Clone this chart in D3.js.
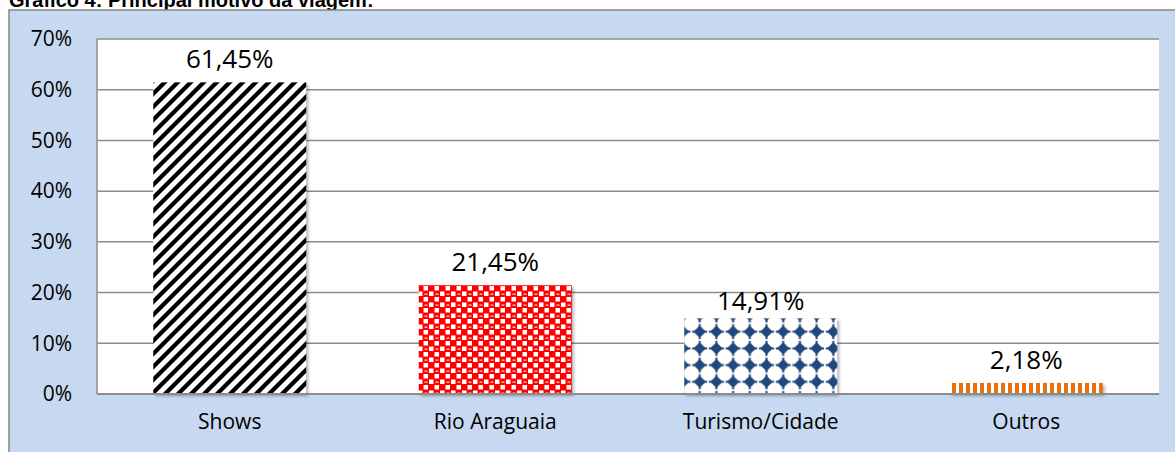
<!DOCTYPE html>
<html><head><meta charset="utf-8">
<script src="https://cdn.jsdelivr.net/npm/d3@7"></script>
<style>body{margin:0;background:#fff;overflow:hidden}svg{display:block}</style>
</head><body>
<script>
const title = "Gráfico 4: Principal motivo da viagem:";
const categories = ["Shows", "Rio Araguaia", "Turismo/Cidade", "Outros"];
const values = [61.45, 21.45, 14.91, 2.18];
const valueLabels = ["61,45%", "21,45%", "14,91%", "2,18%"];
const yTicks = [0, 10, 20, 30, 40, 50, 60, 70];

const W = 1175, H = 452;
const svg = d3.select("body").append("svg").attr("width", W).attr("height", H);
const defs = svg.append("defs");

// patterns
const p1 = defs.append("pattern").attr("id","pShows").attr("patternUnits","userSpaceOnUse")
  .attr("width",13).attr("height",13);
p1.append("rect").attr("width",13).attr("height",13).attr("fill","#fff");
[-13,0,13].forEach(o=>p1.append("line").attr("x1",o-2).attr("y1",15).attr("x2",o+15).attr("y2",-2)
  .attr("stroke","#000").attr("stroke-width",4.2));

const s2 = 11;
const p2 = defs.append("pattern").attr("id","pRio").attr("patternUnits","userSpaceOnUse")
  .attr("width",s2).attr("height",s2);
p2.append("rect").attr("width",s2).attr("height",s2).attr("fill","#ff0000");
p2.append("rect").attr("x",0).attr("y",5.5).attr("width",4.5).attr("height",4.5).attr("fill","#fff");
p2.append("rect").attr("x",5.5).attr("y",0).attr("width",4.5).attr("height",4.5).attr("fill","#fff");
p2.append("rect").attr("x",6.5).attr("y",7.5).attr("width",3).attr("height",1.3).attr("fill","#ffd0d0");

const s3 = 16.7, h = s3/2, r3 = 6.2;
const p3 = defs.append("pattern").attr("id","pTur").attr("patternUnits","userSpaceOnUse")
  .attr("width",s3).attr("height",s3).attr("x",683-h).attr("y",331.7-h);
p3.append("rect").attr("width",s3).attr("height",s3).attr("fill","#fff");
p3.append("path").attr("d",`M${h},${h-r3} L${h+r3},${h} L${h},${h+r3} L${h-r3},${h} Z`).attr("fill","#1f497d");
p3.append("rect").attr("x",h-1).attr("y",h-r3-1.3).attr("width",2).attr("height",2*r3+2.6).attr("fill","#1f497d");
p3.append("rect").attr("x",h-r3-1.3).attr("y",h-1).attr("width",2*r3+2.6).attr("height",2).attr("fill","#1f497d");

const p4 = defs.append("pattern").attr("id","pOut").attr("patternUnits","userSpaceOnUse")
  .attr("width",7).attr("height",10);
p4.append("rect").attr("width",7).attr("height",10).attr("fill","#fff");
p4.append("rect").attr("x",0).attr("width",4).attr("height",10).attr("fill","#e8700e");

const patterns = ["url(#pShows)","url(#pRio)","url(#pTur)","url(#pOut)"];

const f = defs.append("filter").attr("id","blur").attr("x","-10%").attr("y","-10%").attr("width","130%").attr("height","130%");
f.append("feGaussianBlur").attr("stdDeviation",1.5);

// title
svg.append("text").attr("x",9).attr("y",7).attr("font-family","Liberation Sans, Arial, sans-serif")
  .attr("font-weight","bold").attr("font-size",20).attr("fill","#000").text(title);

// chart area
svg.append("rect").attr("x",9).attr("y",10).attr("width",W).attr("height",H)
  .attr("fill","#c6d9f1").attr("stroke","#868686").attr("stroke-width",1.5);

const m = {l:97, r:1159, t:39, b:394};
svg.append("rect").attr("x",m.l).attr("y",m.t).attr("width",m.r-m.l).attr("height",m.b-m.t).attr("fill","#fff");

const x = d3.scaleBand().domain(categories).range([m.l,m.r]).paddingInner(0.424).paddingOuter(0.212);
const y = d3.scaleLinear().domain([0,70]).range([m.b,m.t]);

const font = "Open Sans, sans-serif";
// gridlines
svg.append("g").selectAll("line").data(yTicks.filter(d=>d>0)).join("line")
  .attr("x1",m.l).attr("x2",m.r).attr("y1",d=>y(d)).attr("y2",d=>y(d))
  .attr("stroke","#8c8c8c").attr("stroke-width",1.5);
// left axis line
svg.append("line").attr("x1",m.l).attr("x2",m.l).attr("y1",m.t).attr("y2",m.b).attr("stroke","#8c8c8c").attr("stroke-width",1.5);

// y axis labels
const yAxis = d3.axisLeft(y).tickValues(yTicks).tickFormat(d=>d+"%").tickSize(0).tickPadding(25);
const ga = svg.append("g").attr("transform",`translate(${m.l},0)`).call(yAxis);
ga.select(".domain").remove();
ga.selectAll("text").attr("font-family",font).attr("font-size",21).attr("fill","#000");

// bar shadows
svg.append("g").selectAll("rect").data(values).join("rect")
  .attr("x",(d,i)=>x(categories[i])+2).attr("width",x.bandwidth())
  .attr("y",d=>y(d)+2).attr("height",d=>y(0)-y(d))
  .attr("fill","#000").attr("opacity",0.3).attr("filter","url(#blur)");
// bars
svg.append("g").selectAll("rect").data(values).join("rect")
  .attr("x",(d,i)=>x(categories[i])).attr("width",x.bandwidth())
  .attr("y",d=>y(d)).attr("height",d=>y(0)-y(d))
  .attr("fill",(d,i)=>patterns[i]);

// x axis line
svg.append("line").attr("x1",m.l).attr("x2",m.r).attr("y1",m.b).attr("y2",m.b).attr("stroke","#8c8c8c").attr("stroke-width",2);

// category labels
const xAxis = d3.axisBottom(x).tickSize(0).tickPadding(20);
const gx = svg.append("g").attr("transform",`translate(0,${m.b})`).call(xAxis);
gx.select(".domain").remove();
gx.selectAll("text").attr("font-family",font).attr("font-size",21).attr("fill","#000");

// value labels
svg.append("g").selectAll("text").data(values).join("text")
  .attr("x",(d,i)=>x(categories[i])+x.bandwidth()/2)
  .attr("y",(d,i)=>y(d)-(i===2?8:14))
  .attr("text-anchor","middle").attr("font-family",font).attr("font-size",26).attr("fill","#000")
  .text((d,i)=>valueLabels[i]);
</script>
</body></html>
